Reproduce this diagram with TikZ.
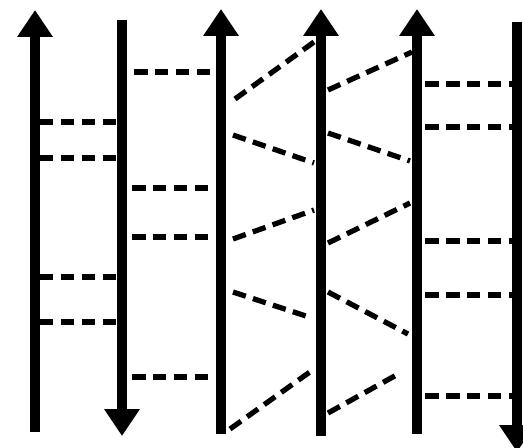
\documentclass[tikz,border=0pt]{standalone}
\usepackage{tikz}
\usetikzlibrary{arrows.meta}
\tikzset{
  timeline/.style   = {line width=0.19cm, -{Triangle[width=0.68cm, length=0.54cm]}},
  msg/.style        = {line width=0.105cm, dash pattern=on 0.27cm off 0.15cm}
}

\begin{document}
\begin{tikzpicture}
  \begin{scope}[x=0.02cm, y=-0.02cm]
    \useasboundingbox (0,0) rectangle (523,447);
    % vertical lines
    \draw[timeline] (35,432) -- (35,10);
    \draw[timeline] (122,20) -- (122,436);
    \draw[timeline] (221,434) -- (221,9);
    \draw[timeline] (321,436) -- (321,9);
    \draw[timeline] (417,434) -- (417,9);
    \draw[timeline] (517,22) -- (517,452);
    % between 1 and 2
    \draw[msg] (40,122) -- (117,122);
    \draw[msg] (40,158) -- (117,158);
    \draw[msg] (40,277) -- (117,277);
    \draw[msg] (40,322) -- (117,322);
    % between 2 and 3
    \draw[msg] (134,72) -- (216,72);
    \draw[msg] (132,188) -- (216,188);
    \draw[msg] (132,237) -- (216,237);
    \draw[msg] (132,377) -- (216,377);
    % between 3 and 4
    \draw[msg] (235,99) -- (314,42);
    \draw[msg] (233,135) -- (314,163);
    \draw[msg] (233,239) -- (314,210);
    \draw[msg] (233,292) -- (312,318);
    \draw[msg] (230,429) -- (314,369);
    % between 4 and 5
    \draw[msg] (328,90) -- (412,52);
    \draw[msg] (328,133) -- (410,161);
    \draw[msg] (328,243) -- (410,203);
    \draw[msg] (328,292) -- (408,334);
    \draw[msg] (328,413) -- (400,373);
    % between 5 and 6
    \draw[msg] (425,84) -- (512,84);
    \draw[msg] (425,127) -- (512,127);
    \draw[msg] (425,241) -- (512,241);
    \draw[msg] (425,295) -- (512,295);
    \draw[msg] (425,396) -- (512,396);
  \end{scope}
\end{tikzpicture}
\end{document}
